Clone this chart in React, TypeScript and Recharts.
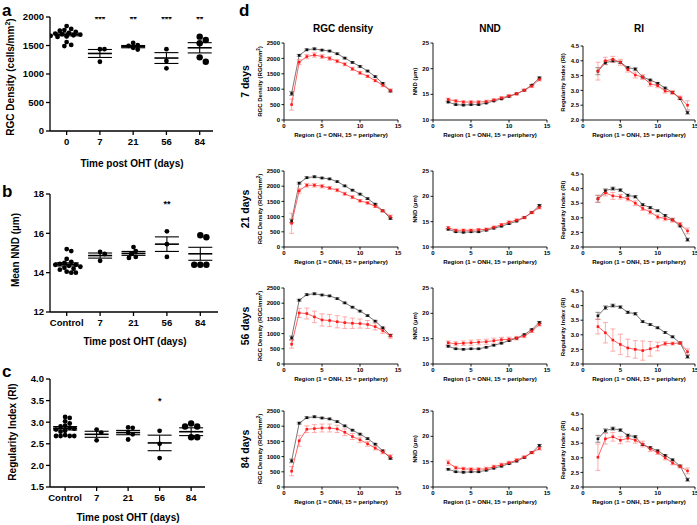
import React from 'react';
import { ComposedChart, LineChart, Line, Scatter, XAxis, YAxis, ErrorBar } from 'recharts';

const FONT = '"Liberation Sans", Arial, Helvetica, sans-serif';

// ---------- Panels a-c ----------
const groupLabelsA = ['0', '7', '21', '56', '84'];
const groupLabelsBC = ['Control', '7', '21', '56', '84'];

const densityPts = [
  [1840, 1790, 1770, 1760, 1740, 1720, 1710, 1700, 1690, 1680, 1670, 1660, 1650, 1560, 1510, 1490],
  [1435, 1435, 1215],
  [1545, 1505, 1495, 1460, 1430],
  [1435, 1230, 1100],
  [1655, 1596, 1540, 1292, 1216],
];
const densityMean = [1695, 1360, 1480, 1280, 1460];
const densitySem = [25, 70, 20, 95, 90];
const densityStars = ['', '***', '**', '***', '**'];

const nndPts = [
  [15.2, 15.1, 14.7, 14.55, 14.5, 14.45, 14.4, 14.4, 14.35, 14.3, 14.25, 14.2, 14.15, 14.05, 14.0, 14.0],
  [15.05, 14.95, 14.6],
  [15.3, 15.1, 14.95, 14.8, 14.75],
  [16.1, 15.45, 14.8],
  [15.9, 15.8, 14.4, 14.4, 14.4],
];
const nndMean = [14.42, 14.87, 14.98, 15.45, 14.96];
const nndSem = [0.08, 0.13, 0.1, 0.37, 0.33];
const nndStars = ['', '', '', '**', ''];

const riPts = [
  [3.12, 3.1, 3.02, 2.97, 2.92, 2.9, 2.87, 2.85, 2.83, 2.8, 2.78, 2.7, 2.68, 2.68, 2.68, 2.68],
  [2.83, 2.76, 2.58],
  [2.88, 2.87, 2.76, 2.72, 2.6],
  [2.8, 2.5, 2.17],
  [2.97, 2.9, 2.9, 2.65, 2.65],
];
const riMean = [2.86, 2.72, 2.76, 2.52, 2.78];
const riSem = [0.04, 0.07, 0.05, 0.18, 0.09];
const riStars = ['', '', '', '*', ''];

// ---------- Panel d ----------
const regionsRGC = [1, 2, 3, 4, 5, 6, 7, 8, 9, 10, 11, 12, 13, 14];
const regionsNR = [2, 3, 4, 5, 6, 7, 8, 9, 10, 11, 12, 13, 14];
const rowLabels = ['7 days', '21 days', '56 days', '84 days'];

const ctrlRGC = [860, 2100, 2280, 2310, 2270, 2240, 2150, 2010, 1870, 1740, 1590, 1410, 1190, 940];
const ctrlRGCErr = [60, 30, 30, 30, 25, 25, 25, 25, 25, 25, 25, 25, 25, 30];
const ctrlNND = [13.5, 13.0, 12.9, 13.0, 13.0, 13.3, 13.7, 14.1, 14.6, 15.1, 15.8, 16.8, 18.2];
const ctrlNNDErr = [0.15, 0.12, 0.12, 0.12, 0.12, 0.12, 0.12, 0.12, 0.12, 0.12, 0.12, 0.12, 0.2];
const ctrlRI = [3.65, 3.93, 4.0, 3.95, 3.77, 3.72, 3.45, 3.35, 3.24, 3.08, 2.93, 2.72, 2.25];
const ctrlRIErr = [0.12, 0.06, 0.05, 0.04, 0.04, 0.04, 0.03, 0.03, 0.03, 0.03, 0.03, 0.03, 0.05];

const ohtRGC = [
  [500, 1880, 2060, 2110, 2060, 2000, 1910, 1810, 1660, 1530, 1420, 1280, 1130, 960],
  [780, 1850, 2030, 2030, 2000, 1940, 1870, 1750, 1640, 1520, 1450, 1340, 1190, 1000],
  [650, 1680, 1660, 1550, 1450, 1430, 1390, 1360, 1340, 1330, 1300, 1230, 1100, 920],
  [520, 1520, 1900, 1920, 1940, 1940, 1910, 1800, 1660, 1550, 1420, 1280, 1150, 1000],
];
const ohtRGCErr = [
  [180, 80, 70, 70, 60, 60, 50, 50, 50, 50, 40, 40, 50, 50],
  [330, 80, 60, 60, 60, 50, 50, 50, 50, 40, 40, 40, 40, 50],
  [130, 150, 180, 190, 200, 200, 200, 190, 170, 150, 130, 110, 90, 70],
  [150, 180, 110, 130, 130, 130, 120, 110, 100, 90, 80, 60, 60, 60],
];
const ohtNND = [
  [14.0, 13.7, 13.5, 13.5, 13.5, 13.6, 13.9, 14.3, 14.7, 15.1, 15.8, 16.6, 17.9],
  [13.8, 13.3, 13.3, 13.3, 13.4, 13.5, 13.9, 14.4, 14.9, 15.3, 15.8, 16.8, 17.8],
  [14.2, 14.0, 14.1, 14.2, 14.3, 14.4, 14.6, 14.8, 14.9, 15.1, 15.5, 16.5, 17.8],
  [14.8, 13.8, 13.6, 13.5, 13.5, 13.6, 14.0, 14.4, 14.8, 15.3, 15.9, 16.8, 17.6],
];
const ohtNNDErr = [
  [0.25, 0.25, 0.25, 0.25, 0.25, 0.25, 0.25, 0.25, 0.25, 0.25, 0.25, 0.25, 0.3],
  [0.25, 0.25, 0.25, 0.25, 0.25, 0.25, 0.25, 0.25, 0.25, 0.25, 0.25, 0.25, 0.3],
  [0.35, 0.4, 0.45, 0.5, 0.5, 0.5, 0.5, 0.45, 0.4, 0.35, 0.3, 0.3, 0.3],
  [0.5, 0.3, 0.3, 0.3, 0.3, 0.3, 0.3, 0.3, 0.3, 0.3, 0.25, 0.25, 0.3],
];
const ohtRI = [
  [3.65, 4.0, 4.05, 3.95, 3.7, 3.52, 3.45, 3.22, 3.16, 2.98, 2.93, 2.75, 2.5],
  [3.65, 3.85, 3.75, 3.72, 3.65, 3.5, 3.32, 3.2, 3.03, 2.97, 2.92, 2.78, 2.55],
  [3.28, 3.07, 2.82, 2.67, 2.55, 2.5, 2.46, 2.52, 2.6, 2.7, 2.7, 2.72, 2.42],
  [3.02, 3.65, 3.72, 3.6, 3.67, 3.6, 3.47, 3.3, 3.18, 3.0, 2.82, 2.7, 2.55],
];
const ohtRIErr = [
  [0.3, 0.12, 0.1, 0.1, 0.08, 0.1, 0.08, 0.08, 0.07, 0.07, 0.07, 0.06, 0.15],
  [0.12, 0.1, 0.12, 0.08, 0.07, 0.08, 0.07, 0.07, 0.07, 0.07, 0.07, 0.06, 0.1],
  [0.25, 0.35, 0.38, 0.35, 0.3, 0.3, 0.33, 0.25, 0.15, 0.07, 0.05, 0.05, 0.1],
  [0.45, 0.18, 0.15, 0.12, 0.12, 0.1, 0.1, 0.08, 0.07, 0.07, 0.06, 0.05, 0.1],
];

// ---------- layout ----------
type Rect = { x0: number; y0: number; x1: number; y1: number };

function swarm(vals: number[], pxY: number, pxX: number, r: number): number[] {
  const order = vals.map((_, i) => i).sort((a, b) => vals[b] - vals[a]);
  const placed: { x: number; y: number }[] = [];
  const out = vals.map(() => 0);
  const d = 2 * r * 0.85;
  const step = r * 0.95;
  for (const i of order) {
    const y = vals[i] * pxY;
    let x = 0;
    for (let k = 0; k < 60; k++) {
      const cand = k === 0 ? 0 : (k % 2 ? 1 : -1) * Math.ceil(k / 2) * step;
      if (placed.every((p) => Math.hypot(p.x - cand, p.y - y) >= d)) {
        x = cand;
        break;
      }
    }
    placed.push({ x, y });
    out[i] = x / pxX;
  }
  return out;
}

const tickA = { fontSize: 9.5, fontWeight: 'bold', fill: '#000', fontFamily: FONT } as any;

function DotPanel(props: {
  rect: Rect;
  domainY: [number, number];
  ticksY: number[];
  fmtY: (v: number) => string;
  domainX: [number, number];
  labels: string[];
  pts: number[][];
  means: number[];
  sems: number[];
  stars: string[];
  starY: number;
  radii: number[];
}) {
  const { rect, domainY, ticksY, fmtY, domainX, labels, pts, means, sems, stars, starY, radii } = props;
  const yw = 34, mt = 10, mr = 6, xh = 24;
  const width = rect.x1 - rect.x0 + yw + mr;
  const height = rect.y1 - rect.y0 + mt + xh;
  const pxY = (rect.y1 - rect.y0) / (domainY[1] - domainY[0]);
  const pxX = (rect.x1 - rect.x0) / (domainX[1] - domainX[0]);
  const dots = pts.flatMap((vals, g) => {
    const offs = swarm(vals, pxY, pxX, radii[g]);
    return vals.map((v, i) => ({ x: g + offs[i], y: v, r: radii[g] }));
  });
  const meanData = means.map((m, g) => ({ x: g, y: m, err: sems[g] }));
  const starData = stars.map((s, g) => ({ x: g, y: starY, label: s })).filter((d) => d.label);
  return (
    <div style={{ position: 'absolute', left: rect.x0 - yw, top: rect.y0 - mt }}>
      <ComposedChart width={width} height={height} margin={{ top: mt, right: mr, left: 0, bottom: 0 }}>
        <XAxis
          type="number"
          dataKey="x"
          domain={domainX}
          ticks={[0, 1, 2, 3, 4]}
          interval={0}
          tickFormatter={(v: number) => labels[Math.round(v)]}
          allowDataOverflow
          stroke="#000"
          strokeWidth={1.3}
          tickSize={4}
          tickMargin={3}
          height={xh}
          tick={tickA}
        />
        <YAxis
          type="number"
          dataKey="y"
          domain={domainY}
          ticks={ticksY}
          interval={0}
          tickFormatter={fmtY}
          allowDataOverflow
          stroke="#000"
          strokeWidth={1.3}
          tickSize={4}
          tickMargin={2}
          width={yw}
          tick={tickA}
        />
        <Scatter
          data={dots}
          isAnimationActive={false}
          shape={(p: any) => <circle cx={p.cx} cy={p.cy} r={p.payload.r} fill="#000" />}
        />
        <Scatter
          data={meanData}
          isAnimationActive={false}
          shape={(p: any) => (
            <line x1={p.cx - 12} x2={p.cx + 12} y1={p.cy} y2={p.cy} stroke="#000" strokeWidth={1.6} />
          )}
        >
          <ErrorBar dataKey="err" direction="y" width={12} stroke="#000" strokeWidth={1.1} />
        </Scatter>
        <Scatter
          data={starData}
          isAnimationActive={false}
          shape={(p: any) => (
            <text x={p.cx} y={p.cy + 4} textAnchor="middle" fontSize={9} fontWeight="bold" fontFamily={FONT} fill="#000">
              {p.payload.label}
            </text>
          )}
        />
      </ComposedChart>
    </div>
  );
}

const tickD = { fontSize: 6, fontWeight: 'bold', fill: '#000', fontFamily: FONT } as any;

const squareDot = (color: string, prefix: string) => (p: any) => (
  <rect key={`${prefix}${p.index}`} x={p.cx - 1.3} y={p.cy - 1.3} width={2.6} height={2.6} fill={color} />
);

function RegionPlot(props: {
  rect: Rect;
  regions: number[];
  ctrl: number[];
  ctrlErr: number[];
  oht: number[];
  ohtErr: number[];
  domainY: [number, number];
  ticksY: number[];
  fmtY: (v: number) => string;
}) {
  const { rect, regions, ctrl, ctrlErr, oht, ohtErr, domainY, ticksY, fmtY } = props;
  const yw = 22, mt = 6, mr = 8, xh = 12;
  const width = rect.x1 - rect.x0 + yw + mr;
  const height = rect.y1 - rect.y0 + mt + xh;
  const data = regions.map((r, i) => ({ region: r, ctrl: ctrl[i], ctrlErr: ctrlErr[i], oht: oht[i], ohtErr: ohtErr[i] }));
  return (
    <div style={{ position: 'absolute', left: rect.x0 - yw, top: rect.y0 - mt }}>
      <LineChart width={width} height={height} data={data} margin={{ top: mt, right: mr, left: 0, bottom: 0 }}>
        <XAxis
          type="number"
          dataKey="region"
          domain={[0, 15]}
          ticks={[0, 5, 10, 15]}
          interval={0}
          stroke="#000"
          strokeWidth={0.9}
          tickSize={2.5}
          tickMargin={1.5}
          height={xh}
          tick={tickD}
        />
        <YAxis
          type="number"
          domain={domainY}
          ticks={ticksY}
          interval={0}
          tickFormatter={fmtY}
          stroke="#000"
          strokeWidth={0.9}
          tickSize={2.5}
          tickMargin={1.5}
          width={yw}
          tick={tickD}
        />
        <Line
          dataKey="ctrl"
          stroke="#555"
          strokeWidth={0.8}
          dot={squareDot('#111', 'c')}
          activeDot={false}
          isAnimationActive={false}
        >
          <ErrorBar dataKey="ctrlErr" direction="y" width={2.5} stroke="#444" strokeWidth={0.6} />
        </Line>
        <Line
          dataKey="oht"
          stroke="#ff3b3b"
          strokeWidth={0.8}
          dot={squareDot('#ff1a1a', 'o')}
          activeDot={false}
          isAnimationActive={false}
        >
          <ErrorBar dataKey="ohtErr" direction="y" width={2.5} stroke="#ff8a8a" strokeWidth={0.7} />
        </Line>
      </LineChart>
    </div>
  );
}

const cols = [
  { x0: 284, x1: 398 },
  { x0: 433, x1: 547 },
  { x0: 583, x1: 695 },
];
const rows = [
  { y0: 43, y1: 120 },
  { y0: 171, y1: 247 },
  { y0: 288, y1: 364 },
  { y0: 411, y1: 487 },
];
const colTitles = ['RGC density', 'NND', 'RI'];
const yLabelX = [260, 415, 563];

function RotText(p: { x: number; y: number; size: number; bold?: boolean; children: React.ReactNode }) {
  return (
    <text
      transform={`translate(${p.x},${p.y}) rotate(-90)`}
      textAnchor="middle"
      dominantBaseline="central"
      fontSize={p.size}
      fontWeight={p.bold ? 'bold' : 'normal'}
      fontFamily={FONT}
      fill="#000"
    >
      {p.children}
    </text>
  );
}

function HText(p: { x: number; y: number; size: number; bold?: boolean; anchor?: string; children: React.ReactNode }) {
  return (
    <text
      x={p.x}
      y={p.y}
      textAnchor={(p.anchor || 'middle') as any}
      dominantBaseline="central"
      fontSize={p.size}
      fontWeight={p.bold ? 'bold' : 'normal'}
      fontFamily={FONT}
      fill="#000"
    >
      {p.children}
    </text>
  );
}

export default function App() {
  const f0 = (v: number) => String(v);
  const f1 = (v: number) => v.toFixed(1);
  return (
    <div
      style={{
        position: 'absolute',
        left: 0,
        top: 0,
        width: 697,
        height: 525,
        background: '#fff',
        overflow: 'hidden',
        fontFamily: FONT,
      }}
    >
      <DotPanel
        rect={{ x0: 50, y0: 17, x1: 213, y1: 131 }}
        domainY={[0, 2000]}
        ticksY={[0, 500, 1000, 1500, 2000]}
        fmtY={f0}
        domainX={[-0.5, 4.4]}
        labels={groupLabelsA}
        pts={densityPts}
        means={densityMean}
        sems={densitySem}
        stars={densityStars}
        starY={1990}
        radii={[2.4, 2.4, 2.4, 2.4, 3.2]}
      />
      <DotPanel
        rect={{ x0: 50, y0: 194, x1: 218, y1: 312 }}
        domainY={[12, 18]}
        ticksY={[12, 14, 16, 18]}
        fmtY={f0}
        domainX={[-0.5, 4.53]}
        labels={groupLabelsBC}
        pts={nndPts}
        means={nndMean}
        sems={nndSem}
        stars={nndStars}
        starY={17.55}
        radii={[2.4, 2.4, 2.4, 2.4, 3.2]}
      />
      <DotPanel
        rect={{ x0: 50, y0: 379, x1: 205, y1: 487 }}
        domainY={[1.5, 4.0]}
        ticksY={[1.5, 2.0, 2.5, 3.0, 3.5, 4.0]}
        fmtY={f1}
        domainX={[-0.48, 4.44]}
        labels={groupLabelsBC}
        pts={riPts}
        means={riMean}
        sems={riSem}
        stars={riStars}
        starY={3.52}
        radii={[2.4, 2.4, 2.4, 2.4, 3.2]}
      />

      {rows.map((r, ri) => (
        <React.Fragment key={`row${ri}`}>
          <RegionPlot
            rect={{ x0: cols[0].x0, x1: cols[0].x1, y0: r.y0, y1: r.y1 }}
            regions={regionsRGC}
            ctrl={ctrlRGC}
            ctrlErr={ctrlRGCErr}
            oht={ohtRGC[ri]}
            ohtErr={ohtRGCErr[ri]}
            domainY={[0, 2500]}
            ticksY={[0, 500, 1000, 1500, 2000, 2500]}
            fmtY={f0}
          />
          <RegionPlot
            rect={{ x0: cols[1].x0, x1: cols[1].x1, y0: r.y0, y1: r.y1 }}
            regions={regionsNR}
            ctrl={ctrlNND}
            ctrlErr={ctrlNNDErr}
            oht={ohtNND[ri]}
            ohtErr={ohtNNDErr[ri]}
            domainY={[10, 25]}
            ticksY={[10, 15, 20, 25]}
            fmtY={f0}
          />
          <RegionPlot
            rect={{ x0: cols[2].x0, x1: cols[2].x1, y0: r.y0 + 3, y1: r.y1 }}
            regions={regionsNR}
            ctrl={ctrlRI}
            ctrlErr={ctrlRIErr}
            oht={ohtRI[ri]}
            ohtErr={ohtRIErr[ri]}
            domainY={[2.0, 4.5]}
            ticksY={[2.0, 2.5, 3.0, 3.5, 4.0, 4.5]}
            fmtY={f1}
          />
        </React.Fragment>
      ))}

      <svg width={697} height={525} style={{ position: 'absolute', left: 0, top: 0, pointerEvents: 'none' }}>
        {/* panel letters */}
        <text x={2} y={16} fontSize={17} fontWeight="bold" fontFamily={FONT}>a</text>
        <text x={2} y={197} fontSize={17} fontWeight="bold" fontFamily={FONT}>b</text>
        <text x={2} y={377} fontSize={17} fontWeight="bold" fontFamily={FONT}>c</text>
        <text x={239} y={16} fontSize={17} fontWeight="bold" fontFamily={FONT}>d</text>

        {/* a-c axis labels */}
        <RotText x={10} y={77} size={10} bold>
          RGC Density (cells/mm
          <tspan dy={-3} fontSize={7}>2</tspan>
          <tspan dy={3}>)</tspan>
        </RotText>
        <HText x={132} y={163} size={10} bold>Time post OHT (days)</HText>
        <RotText x={15} y={250} size={10} bold>Mean NND (µm)</RotText>
        <HText x={135} y={341} size={10} bold>Time post OHT (days)</HText>
        <RotText x={12} y={432} size={10} bold>Regularity Index (RI)</RotText>
        <HText x={128} y={517} size={10} bold>Time post OHT (days)</HText>

        {/* d titles */}
        {cols.map((c, i) => (
          <HText key={`t${i}`} x={i === 0 ? 343 : (c.x0 + c.x1) / 2} y={28} size={10} bold>
            {colTitles[i]}
          </HText>
        ))}
        {rows.map((r, ri) => (
          <React.Fragment key={`lab${ri}`}>
            <RotText x={245} y={(r.y0 + r.y1) / 2} size={10.5} bold>{rowLabels[ri]}</RotText>
            <RotText x={yLabelX[0]} y={(r.y0 + r.y1) / 2} size={6} bold>
              RGC Density (RGC/mm
              <tspan dy={-2} fontSize={4.5}>2</tspan>
              <tspan dy={2}>)</tspan>
            </RotText>
            <RotText x={yLabelX[1]} y={(r.y0 + r.y1) / 2} size={6} bold>NND (µm)</RotText>
            <RotText x={yLabelX[2]} y={(r.y0 + r.y1) / 2 + 1} size={6} bold>Regularity Index (RI)</RotText>
            {cols.map((c, ci) => (
              <HText key={`rl${ri}-${ci}`} x={(c.x0 + c.x1) / 2} y={r.y1 + 15} size={6} bold>
                Region (1 = ONH, 15 = periphery)
              </HText>
            ))}
          </React.Fragment>
        ))}
      </svg>
    </div>
  );
}
